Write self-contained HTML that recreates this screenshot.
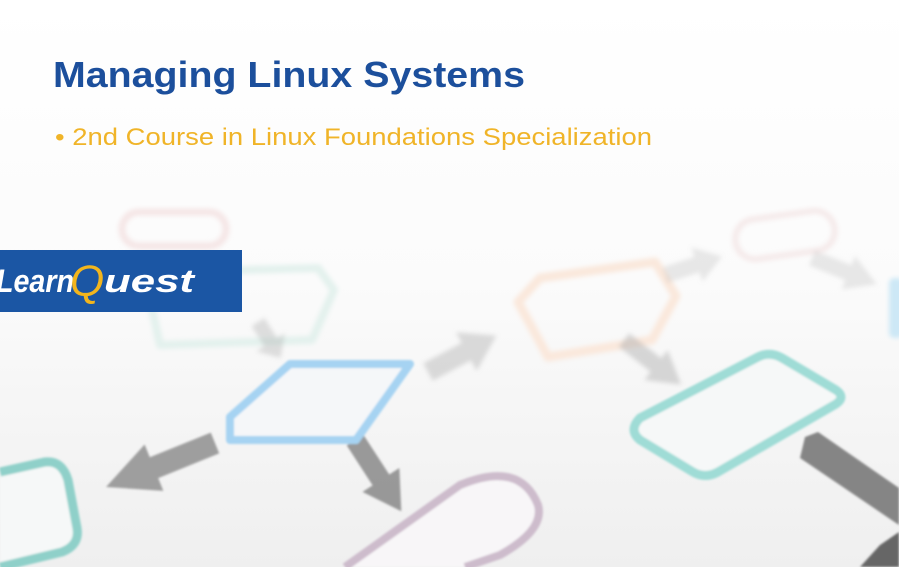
<!DOCTYPE html>
<html><head><meta charset="utf-8"><style>
html,body{margin:0;padding:0;background:#fff;}
svg{display:block;}
</style></head><body>
<svg width="899" height="567" viewBox="0 0 899 567" xmlns="http://www.w3.org/2000/svg">
<defs>
<linearGradient id="bg" x1="0" y1="0" x2="0" y2="1">
<stop offset="0" stop-color="#ffffff"/><stop offset="0.5" stop-color="#fbfbfb"/><stop offset="1" stop-color="#efefef"/>
</linearGradient>
<filter id="b1" x="-10%" y="-10%" width="120%" height="120%"><feGaussianBlur stdDeviation="1"/></filter>
<filter id="b2" x="-10%" y="-10%" width="120%" height="120%"><feGaussianBlur stdDeviation="2.5"/></filter>
<path id="arr" d="M0,-9 L28,-9 L28,-20 L50,0 L28,20 L28,9 L0,9 Z"/>
</defs>
<rect width="899" height="567" fill="url(#bg)"/>

<g filter="url(#b2)">
<rect x="122" y="212" width="104" height="34" rx="17" fill="none" stroke="#f5e6e6" stroke-width="7"/>
<polygon points="150,300 168,272 318,268 334,290 312,340 160,345" fill="none" stroke="#e3f1ed" stroke-width="8" stroke-linejoin="round"/>
<polygon points="518,302 540,278 655,262 676,296 652,340 548,357" fill="none" stroke="#fae8dc" stroke-width="9" stroke-linejoin="round"/>
<rect x="735" y="215" width="100" height="40" rx="20" fill="none" stroke="#f5eaea" stroke-width="6" transform="rotate(-8 785 235)"/>
<rect x="889" y="278" width="14" height="60" rx="5" fill="#cde8f6"/>
<use href="#arr" fill="#aaa" opacity="0.35" transform="translate(258,322) rotate(58) scale(0.85)"/>
<use href="#arr" fill="#aaa" opacity="0.4" transform="translate(428,372) rotate(-28) scale(1.55,1.1)"/>
<use href="#arr" fill="#aaa" opacity="0.45" transform="translate(624,340) rotate(38) scale(1.45,0.95)"/>
<use href="#arr" fill="#aaa" opacity="0.25" transform="translate(665,275) rotate(-18) scale(1.2,0.9)"/>
<use href="#arr" fill="#aaa" opacity="0.25" transform="translate(812,258) rotate(22) scale(1.4,0.9)"/>
</g>

<g filter="url(#b1)">
<use href="#arr" fill="#8f8f8f" opacity="0.85" transform="translate(215,443) rotate(158) scale(2.35,1.25)"/>
<use href="#arr" fill="#888" opacity="0.85" transform="translate(355,440) rotate(57) scale(1.7,1.1)"/>
<polygon points="805,437 818,432 899,488 899,525 800,458" fill="#858585"/>
<polygon points="880,545 899,532 899,567 860,567" fill="#666"/>

<polygon points="230,417 290,364 410,364 356,440 230,440" fill="#f5f7f9" stroke="#a6d3f2" stroke-width="8" stroke-linejoin="round"/>
<path d="M640,418 L758,357 Q770,351 782,358 L836,390 Q846,397 836,404 L718,472 Q705,479 693,472 L640,440 Q628,430 640,418 Z" fill="#f6f8f8" stroke="#9fdcd6" stroke-width="9"/>
<path d="M345,567 L460,485 Q520,460 538,505 Q545,530 500,555 L465,567" fill="#f8f6f8" stroke="#cdbccc" stroke-width="8"/>
<path d="M0,472 L45,462 Q62,460 68,480 L77,528 Q80,545 62,552 L0,567" fill="#f6f8f8" stroke="#8fd0c9" stroke-width="9"/>
</g>

<text x="53" y="87" font-family="Liberation Sans, sans-serif" font-weight="bold" font-size="36" fill="#1c4f9c" textLength="472" lengthAdjust="spacingAndGlyphs">Managing Linux Systems</text>
<text x="55" y="145" font-family="Liberation Sans, sans-serif" font-size="24" fill="#f0b428" textLength="597" lengthAdjust="spacingAndGlyphs">• 2nd Course in Linux Foundations Specialization</text>

<rect x="0" y="250" width="242" height="62" fill="#1b56a4"/>
<text x="-4" y="292" font-family="Liberation Sans, sans-serif" font-weight="bold" font-style="italic" font-size="32" fill="#fff" textLength="78" lengthAdjust="spacingAndGlyphs">Learn</text>
<text x="70" y="296" font-family="Liberation Sans, sans-serif" font-style="italic" font-size="44" fill="#f2b51d">Q</text>
<text x="104" y="292" font-family="Liberation Sans, sans-serif" font-weight="bold" font-style="italic" font-size="32" fill="#fff" textLength="90" lengthAdjust="spacingAndGlyphs">uest</text>
</svg>
</body></html>
